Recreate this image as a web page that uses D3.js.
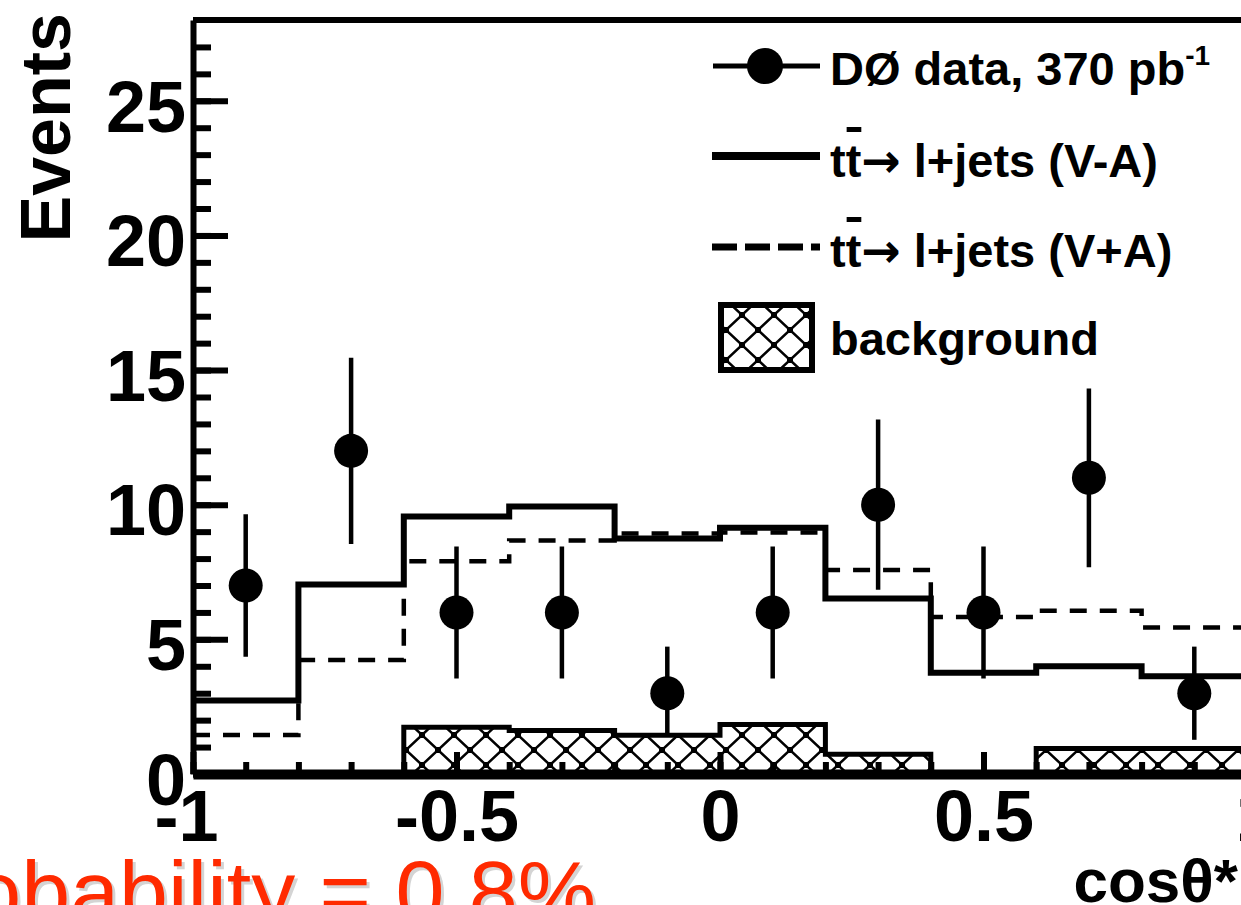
<!DOCTYPE html>
<html>
<head>
<meta charset="utf-8">
<script src="https://cdn.jsdelivr.net/npm/d3@7"></script>
<style>
  body { margin: 0; background: #fff; }
  text { font-family: "Liberation Sans", Arial, Helvetica, sans-serif; }
</style>
</head>
<body>
<div id="chart"></div>
<script>
// bin edges of the cos(theta*) histogram
var binEdges = [-1, -0.8, -0.6, -0.4, -0.2, 0, 0.2, 0.4, 0.6, 0.8, 1];
var binCenters = [-0.9, -0.7, -0.5, -0.3, -0.1, 0.1, 0.3, 0.5, 0.7, 0.9];

// D0 data, 370 pb-1
var dataCounts = [7, 12, 6, 6, 3, 6, 10, 6, 11, 3];
var dataErrors = [2.65, 3.46, 2.45, 2.45, 1.73, 2.45, 3.16, 2.45, 3.32, 1.73];

// ttbar -> l+jets (V-A), (V+A) and background
var vmaHist = [2.73, 7.04, 9.56, 9.93, 8.75, 9.14, 6.52, 3.76, 4.0, 3.63];
var vpaHist = [1.45, 4.23, 7.9, 8.67, 8.93, 8.97, 7.58, 5.83, 6.06, 5.44];
var bkgHist = [0, 0, 1.74, 1.62, 1.44, 1.84, 0.73, 0, 0.95, 0.95];

var xMajorTicks = [-1, -0.5, 0, 0.5, 1];
var xTickLabels = ["-1", "-0.5", "0", "0.5", "1"];
var yMajorTicks = [0, 5, 10, 15, 20, 25];

var svgWidth = 1241, svgHeight = 905;
var font = '"Liberation Sans", Arial, Helvetica, sans-serif';

var svg = d3.select('#chart')
        .append('svg')
        .attr('width', svgWidth)
        .attr('height', svgHeight);

var xScale = d3.scaleLinear().domain([-1, 1]).range([193, 1247]);
var yScale = d3.scaleLinear().domain([0, 28]).range([774, 20]);

// hatch pattern for the background
var defs = svg.append('defs');
var pat = defs.append('pattern')
        .attr('id', 'hatch')
        .attr('patternUnits', 'userSpaceOnUse')
        .attr('x', 6).attr('y', 15)
        .attr('width', 32).attr('height', 30);
pat.append('rect').attr('width', 32).attr('height', 30).attr('fill', '#fff');
pat.append('path').attr('d', 'M0,0L32,30M32,0L0,30')
        .attr('stroke', '#000').attr('stroke-width', 2.5);
[[0, 0], [32, 0], [0, 30], [32, 30], [16, 15]].forEach(function(p) {
    pat.append('rect').attr('x', p[0] - 3).attr('y', p[1] - 3)
        .attr('width', 6).attr('height', 6).attr('fill', '#000');
});

function stepPoints(vals) {
    return binEdges.map(function(e, i) {
        return { x: e, y: vals[Math.min(i, vals.length - 1)] };
    });
}

var stepLine = d3.line()
        .x(function(d) { return xScale(d.x); })
        .y(function(d) { return yScale(d.y); })
        .curve(d3.curveStepAfter);

var stepArea = d3.area()
        .x(function(d) { return xScale(d.x); })
        .y0(yScale(0))
        .y1(function(d) { return yScale(d.y); })
        .curve(d3.curveStepAfter);

// V+A dashed
svg.append('path')
        .datum(stepPoints(vpaHist))
        .attr('d', stepLine)
        .attr('fill', 'none')
        .attr('stroke', '#000')
        .attr('stroke-width', 4.5)
        .attr('stroke-dasharray', '17,13');

// V-A solid
svg.append('path')
        .datum(stepPoints(vmaHist))
        .attr('d', stepLine)
        .attr('fill', 'none')
        .attr('stroke', '#000')
        .attr('stroke-width', 6);

// data points with errors
var pts = binCenters.map(function(c, i) {
    return { x: c, y: dataCounts[i], e: dataErrors[i] };
});

svg.selectAll('.err')
        .data(pts)
        .enter()
        .append('line')
        .attr('class', 'err')
        .attr('x1', function(d) { return xScale(d.x); })
        .attr('x2', function(d) { return xScale(d.x); })
        .attr('y1', function(d) { return yScale(d.y - d.e); })
        .attr('y2', function(d) { return yScale(d.y + d.e); })
        .attr('stroke', '#000')
        .attr('stroke-width', 4.5);

svg.selectAll('.dot')
        .data(pts)
        .enter()
        .append('circle')
        .attr('class', 'dot')
        .attr('r', 17)
        .attr('fill', '#000')
        .attr('cx', function(d) { return xScale(d.x); })
        .attr('cy', function(d) { return yScale(d.y); });

// background, hatched
svg.append('path')
        .datum(stepPoints(bkgHist))
        .attr('d', stepArea)
        .attr('fill', 'url(#hatch)');
svg.append('path')
        .datum(stepPoints(bkgHist))
        .attr('d', stepLine)
        .attr('fill', 'none')
        .attr('stroke', '#000')
        .attr('stroke-width', 5);

// frame top
svg.append('line')
        .attr('x1', xScale(-1)).attr('x2', xScale(1))
        .attr('y1', yScale(28)).attr('y2', yScale(28))
        .attr('stroke', '#000').attr('stroke-width', 6);

// x axis: minor then major
svg.append('g')
        .attr('transform', 'translate(0,' + yScale(0) + ')')
        .call(d3.axisBottom(xScale).tickValues(d3.range(-10, 11).map(function(v) { return v / 10; }))
            .tickSize(-12).tickSizeOuter(0).tickFormat(''))
        .call(function(g) { g.select('.domain').remove(); })
        .selectAll('line').attr('stroke-width', 6);

var xAxis = d3.axisBottom(xScale)
        .tickValues(xMajorTicks)
        .tickSize(-22).tickSizeOuter(0).tickPadding(16)
        .tickFormat(function(d, i) { return xTickLabels[i]; });

var gx = svg.append('g')
        .attr('transform', 'translate(0,' + yScale(0) + ')')
        .call(xAxis);
gx.select('.domain').attr('stroke-width', 10);
gx.selectAll('line').attr('stroke-width', 6);
gx.selectAll('text')
        .attr('font-family', font).attr('font-size', 72).attr('font-weight', 'bold')
        .attr('fill', '#000')
        .attr('dx', function(d) { return d === -1 ? -7 : (d === 1 ? 8 : 0); });

// y axis: minor then major
svg.append('g')
        .attr('transform', 'translate(' + xScale(-1) + ',0)')
        .call(d3.axisLeft(yScale).tickValues(d3.range(0, 28))
            .tickSize(-18).tickSizeOuter(0).tickFormat(''))
        .call(function(g) { g.select('.domain').remove(); })
        .selectAll('line').attr('stroke-width', 6);

var gy = svg.append('g')
        .attr('transform', 'translate(' + xScale(-1) + ',0)')
        .call(d3.axisLeft(yScale).tickValues(yMajorTicks)
            .tickSize(-35).tickSizeOuter(0).tickPadding(7));
gy.select('.domain').attr('stroke-width', 6);
gy.selectAll('line').attr('stroke-width', 6);
gy.selectAll('text')
        .attr('font-family', font).attr('font-size', 72).attr('font-weight', 'bold')
        .attr('fill', '#000').attr('dy', '0.42em');

// axis titles
svg.append('text')
        .attr('transform', 'translate(70,13) rotate(-90)')
        .attr('text-anchor', 'end')
        .attr('font-size', 70).attr('font-weight', 'bold')
        .text('Events');

svg.append('text')
        .attr('x', 1238).attr('y', 902)
        .attr('text-anchor', 'end')
        .attr('font-size', 62).attr('font-weight', 'bold')
        .text('cosθ*');

// legend
var lg = svg.append('g').attr('font-size', 47).attr('font-weight', 'bold');

lg.append('line').attr('x1', 713).attr('x2', 820).attr('y1', 66).attr('y2', 66)
        .attr('stroke', '#000').attr('stroke-width', 5);
lg.append('circle').attr('cx', 765).attr('cy', 66).attr('r', 18).attr('fill', '#000');
var t1 = lg.append('text').attr('x', 830).attr('y', 85).text('DØ data, 370 pb');
t1.append('tspan').attr('dy', -20).attr('font-size', 28).text('-1');

lg.append('line').attr('x1', 712).attr('x2', 820).attr('y1', 156).attr('y2', 156)
        .attr('stroke', '#000').attr('stroke-width', 8);
lg.append('line').attr('x1', 712).attr('x2', 820).attr('y1', 247).attr('y2', 247)
        .attr('stroke', '#000').attr('stroke-width', 7).attr('stroke-dasharray', '25,8');

[[177, '(V-A)'], [267, '(V+A)']].forEach(function(r) {
    var t = lg.append('text').attr('x', 830).attr('y', r[0]);
    t.append('tspan').text('tt');
    t.append('tspan').attr('font-family', '"DejaVu Sans", sans-serif').text('→');
    t.append('tspan').text(' l+jets ' + r[1]);
    var node = t.node();
    var sx = node.getStartPositionOfChar(1).x;
    var w = node.getSubStringLength(1, 1);
    lg.append('rect').attr('x', sx + 1).attr('y', r[0] - 50)
        .attr('width', w - 1).attr('height', 5).attr('fill', '#000');
});

lg.append('rect').attr('x', 721).attr('y', 305).attr('width', 91).attr('height', 65)
        .attr('fill', 'url(#hatch)').attr('stroke', '#000').attr('stroke-width', 6);
lg.append('text').attr('x', 830).attr('y', 355).text('background');

// red annotation (cut off at the bottom)
svg.append('text')
        .attr('x', 599).attr('y', 925)
        .attr('text-anchor', 'end')
        .attr('font-size', 88).attr('fill', '#d4d4d4')
        .text('Probability = 0.8%');
svg.append('text')
        .attr('x', 596).attr('y', 922)
        .attr('text-anchor', 'end')
        .attr('font-size', 88).attr('fill', '#ff2a00')
        .text('Probability = 0.8%');
</script>
</body>
</html>
